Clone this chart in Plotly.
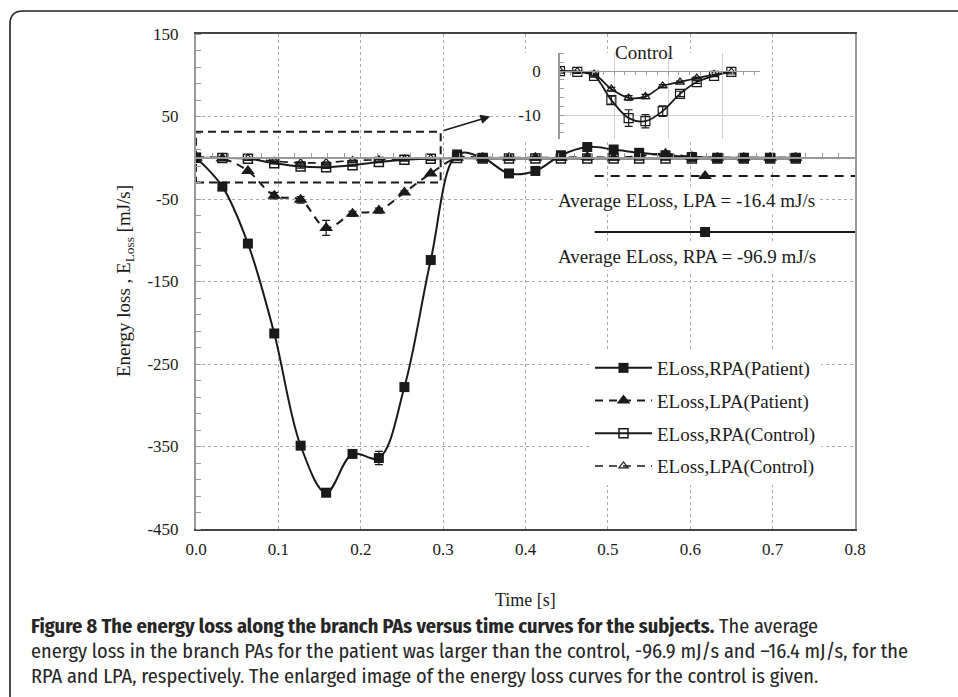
import plotly.graph_objects as go

# ---------------- data ----------------
time_s = [0.000, 0.032, 0.063, 0.095, 0.127, 0.158, 0.190, 0.222, 0.253, 0.285,
          0.317, 0.348, 0.380, 0.412, 0.443, 0.475, 0.507, 0.538, 0.570, 0.602,
          0.633, 0.665, 0.697, 0.728]
rpa_patient = [0, -35, -104, -213, -349, -406, -359, -364, -278, -124,
               4, 0, -19, -16, 3, 13, 10, 6, 3, 1, 0, 0, 0, 0]
rpa_patient_err = [0, 0, 0, 0, 0, 2, 3, 8, 5, 0,
                   0, 0, 0, 0, 0, 0, 0, 0, 0, 0, 0, 0, 0, 0]
lpa_patient = [0, -1, -16, -46, -51, -85, -68, -64, -42, -19,
               0, 0, 0, 0, 0, 1, 0, 2, 5, 1, 0, 0, 0, 0]
lpa_patient_err = [0, 0, 0, 4, 4, 9, 3, 3, 2, 0,
                   0, 0, 0, 0, 0, 0, 0, 0, 0, 0, 0, 0, 0, 0]
rpa_control = [0, -0.2, -1.1, -6.6, -10.7, -11.4, -9.1, -5.2, -2.5, -1.1,
               -0.2, -0.8, -1.0, -1.0, -0.8, -1.0, -1.0, -1.0, -0.8, -0.8,
               -0.8, -0.8, -0.8, -0.8]
rpa_control_err = [0, 0, 0.3, 0.9, 1.9, 1.5, 1.2, 0.6, 0.3, 0,
                   0, 0, 0, 0, 0, 0, 0, 0, 0, 0, 0, 0, 0, 0]
lpa_control = [0, -0.1, -0.7, -4.1, -6.1, -5.8, -3.4, -2.5, -1.6, -0.8,
               -0.2, -0.5, -0.5, -0.5, -0.5, -0.5, -0.5, -0.5, -0.5, -0.5,
               -0.5, -0.5, -0.5, -0.5]
lpa_control_err = [0, 0, 0.2, 0.4, 0.5, 0.5, 0.3, 0.2, 0.2, 0,
                   0, 0, 0, 0, 0, 0, 0, 0, 0, 0, 0, 0, 0, 0]
inset_n = 11  # the enlarged control view shows the first 11 samples

series_names = ["ELoss,RPA(Patient)", "ELoss,LPA(Patient)",
                "ELoss,RPA(Control)", "ELoss,LPA(Control)"]

avg_lpa = -16.4
avg_rpa = -96.9
avg_key_x = [0.484, 0.8]
avg_key_marker_x = [0.618]
avg_key_y = [-22, -90]

x_tick_vals = [0.0, 0.1, 0.2, 0.3, 0.4, 0.5, 0.6, 0.7, 0.8]
x_tick_text = ["0.0", "0.1", "0.2", "0.3", "0.4", "0.5", "0.6", "0.7", "0.8"]
y_tick_vals = [150, 50, -50, -150, -250, -350, -450]
y_tick_text = ["150", "50", "-50", "-150", "-250", "-350", "-450"]
inset_y_tick_vals = [0, -10]
inset_y_tick_text = ["0", "-10"]
zoom_box_x = [0.0, 0.297]
zoom_box_y = [-30, 31.5]

# ---------------- layout helpers ----------------
W, H = 958, 697
ML, MR, MT, MB = 196, 103, 34, 168
PW, PH = W - ML - MR, H - MT - MB


def px(xp):
    return (xp - ML) / PW


def py(yp):
    return (H - MB - yp) / PH


SERIF = "Liberation Serif, Times New Roman, serif"
SANS = "Fira Sans Condensed, Roboto Condensed, PT Sans Narrow, sans-serif"
INK = "#1a1a1a"

fig = go.Figure()

err_style = dict(type="data", symmetric=True, color=INK, thickness=1.2, width=4)

fig.add_trace(go.Scatter(
    x=time_s, y=rpa_patient, name=series_names[0], legendgroup="a",
    mode="lines+markers", line=dict(color=INK, width=2, shape="spline", smoothing=1.0),
    marker=dict(symbol="square", size=10, color=INK),
    error_y=dict(array=rpa_patient_err, **err_style)))
fig.add_trace(go.Scatter(
    x=time_s, y=lpa_patient, name=series_names[1], legendgroup="b",
    mode="lines+markers",
    line=dict(color=INK, width=2, dash="8px,6px", shape="spline", smoothing=1.0),
    marker=dict(symbol="triangle-up", size=12, color=INK),
    error_y=dict(array=lpa_patient_err, **err_style)))
fig.add_trace(go.Scatter(
    x=time_s, y=rpa_control, name=series_names[2], legendgroup="c",
    mode="lines+markers", line=dict(color=INK, width=2, shape="spline", smoothing=1.0),
    marker=dict(symbol="square-open", size=9, color=INK, line=dict(width=1.5)),
    error_y=dict(array=rpa_control_err, **err_style)))
fig.add_trace(go.Scatter(
    x=time_s, y=lpa_control, name=series_names[3], legendgroup="d",
    mode="lines+markers",
    line=dict(color=INK, width=1.6, dash="8px,6px", shape="spline", smoothing=1.0),
    marker=dict(symbol="triangle-up-open", size=8, color=INK, line=dict(width=1.2)),
    error_y=dict(array=lpa_control_err, **err_style)))

# average keys
fig.add_trace(go.Scatter(
    x=avg_key_x, y=[avg_key_y[0]] * 2, mode="lines", showlegend=False, hoverinfo="skip",
    line=dict(color=INK, width=2, dash="9px,7px")))
fig.add_trace(go.Scatter(
    x=avg_key_marker_x, y=[avg_key_y[0]], mode="markers", showlegend=False,
    marker=dict(symbol="triangle-up", size=12, color=INK)))
fig.add_trace(go.Scatter(
    x=avg_key_x, y=[avg_key_y[1]] * 2, mode="lines", showlegend=False, hoverinfo="skip",
    line=dict(color=INK, width=2.2)))
fig.add_trace(go.Scatter(
    x=avg_key_marker_x, y=[avg_key_y[1]], mode="markers", showlegend=False,
    marker=dict(symbol="square", size=10, color=INK)))

# zoom box (dashed)
fig.add_trace(go.Scatter(
    x=[zoom_box_x[0], zoom_box_x[1], zoom_box_x[1], zoom_box_x[0], zoom_box_x[0]],
    y=[zoom_box_y[0], zoom_box_y[0], zoom_box_y[1], zoom_box_y[1], zoom_box_y[0]],
    mode="lines", showlegend=False, hoverinfo="skip",
    line=dict(color=INK, width=2, dash="8px,5px")))

# invisible trace for the axis drawn at y = 0
fig.add_trace(go.Scatter(x=[0], y=[0], xaxis="x2", yaxis="y", mode="markers",
                         marker=dict(opacity=0), showlegend=False, hoverinfo="skip"))

# inset (control, enlarged)
fig.add_trace(go.Scatter(
    x=time_s[:inset_n], y=rpa_control[:inset_n], xaxis="x3", yaxis="y3",
    mode="lines+markers", showlegend=False,
    line=dict(color=INK, width=1.8, shape="spline", smoothing=1.0),
    marker=dict(symbol="square-open", size=9, color=INK, line=dict(width=1.2)),
    error_y=dict(array=rpa_control_err[:inset_n], **err_style)))
fig.add_trace(go.Scatter(
    x=time_s[:inset_n], y=lpa_control[:inset_n], xaxis="x3", yaxis="y3",
    mode="lines+markers", showlegend=False,
    line=dict(color=INK, width=1.8, shape="spline", smoothing=1.0),
    marker=dict(symbol="triangle-up-open", size=8, color=INK, line=dict(width=1.2)),
    error_y=dict(array=lpa_control_err[:inset_n], **err_style)))

tickfont = dict(family=SERIF, size=17, color=INK)

fig.update_layout(
    width=W, height=H,
    margin=dict(l=ML, r=MR, t=MT, b=MB, pad=0),
    paper_bgcolor="white", plot_bgcolor="white",
    showlegend=True,
    legend=dict(x=px(590), y=py(349), xanchor="left", yanchor="top",
                bgcolor="white", font=dict(family=SERIF, size=19, color=INK),
                traceorder="grouped", tracegroupgap=5, itemwidth=57,
                borderwidth=0),
    xaxis=dict(domain=[0, 1], range=[0, 0.8], tickvals=x_tick_vals, ticktext=x_tick_text,
               showgrid=True, gridcolor="#aaaaaa", griddash="dot", gridwidth=1,
               showline=True, linecolor="#444444", linewidth=1.5, mirror=True,
               ticks="", ticklabelstandoff=4, tickfont=tickfont, zeroline=False),
    yaxis=dict(domain=[0, 1], range=[-450, 150], tickvals=y_tick_vals, ticktext=y_tick_text,
               showgrid=True, gridcolor="#aaaaaa", griddash="dot", gridwidth=1,
               showline=True, linecolor="#999999", linewidth=2, mirror=True,
               ticks="", ticklabelstandoff=12, tickfont=tickfont, zeroline=False,
               minor=dict(dtick=20, tick0=150, ticks="inside", ticklen=5,
                          tickcolor="#999999", showgrid=False)),
    xaxis2=dict(overlaying="x", anchor="free", position=0.75, side="bottom",
                range=[0, 0.8], showticklabels=False, showgrid=False, zeroline=False,
                showline=True, linecolor="#999999", linewidth=1.5,
                tickmode="linear", tick0=0, dtick=0.02, ticks="inside", ticklen=4,
                tickcolor="#999999"),
    xaxis3=dict(domain=[px(560), px(760)], range=[0, 0.37], anchor="free",
                position=py(71), showticklabels=False,
                showgrid=True, gridcolor="#d0d0d0", gridwidth=1,
                tickvals=[0.1, 0.2, 0.3], zeroline=False, showline=True,
                linecolor="#999999", linewidth=1.2,
                minor=dict(dtick=0.02, tick0=0, ticks="outside", ticklen=3,
                           tickcolor="#999999", showgrid=False), ticks=""),
    yaxis3=dict(domain=[py(139), py(53)], range=[-15.45, 4.1], anchor="x3",
                tickvals=inset_y_tick_vals, ticktext=inset_y_tick_text,
                showgrid=True, gridcolor="#d0d0d0", gridwidth=1, zeroline=False,
                showline=True, linecolor="#999999", linewidth=1.5,
                ticks="", ticklabelstandoff=14, tickfont=tickfont,
                minor=dict(dtick=2, tick0=0, ticks="inside", ticklen=4,
                           tickcolor="#999999", showgrid=False)),
)

# white background behind inset (covers main gridlines)
fig.add_shape(type="rect", xref="x", yref="y", x0=px(515) * 0.8, x1=px(762) * 0.8,
              y0=21.8, y1=127, fillcolor="white", line=dict(width=0), layer="between")

# outer rounded frame (cut at right and bottom)
fx0, fy0, fr = 10, 11, 13
frame_path = (f"M {px(fx0)},{py(H + 20)} L {px(fx0)},{py(fy0 + fr)} "
              f"Q {px(fx0)},{py(fy0)} {px(fx0 + fr)},{py(fy0)} L {px(W + 20)},{py(fy0)}")
fig.add_shape(type="path", xref="paper", yref="paper", path=frame_path,
              line=dict(color="#222222", width=1.6))

# arrow from zoom box to inset
fig.add_annotation(x=0.357, y=50, ax=zoom_box_x[1] + 0.002, ay=zoom_box_y[1] + 1,
                   xref="x", yref="y", axref="x", ayref="y", text="",
                   showarrow=True, arrowhead=2, arrowsize=1.2, arrowwidth=1.6,
                   arrowcolor=INK)

# inset title
fig.add_annotation(x=px(644), y=py(52), xref="paper", yref="paper", text="Control",
                   showarrow=False, font=dict(family=SERIF, size=19, color=INK),
                   xanchor="center", yanchor="middle")

# average labels
fig.add_annotation(x=0.596, y=-52, xref="x", yref="y",
                   text=f"Average ELoss, LPA = {avg_lpa} mJ/s", showarrow=False,
                   font=dict(family=SERIF, size=19, color=INK), bgcolor="white",
                   borderpad=3, xanchor="center", yanchor="middle")
fig.add_annotation(x=0.596, y=-120, xref="x", yref="y",
                   text=f"Average ELoss, RPA = {avg_rpa} mJ/s", showarrow=False,
                   font=dict(family=SERIF, size=19, color=INK), bgcolor="white",
                   borderpad=3, xanchor="center", yanchor="middle")

# axis titles
fig.add_annotation(x=px(125), y=py(281), xref="paper", yref="paper", textangle=-90,
                   text="Energy loss , E<sub>Loss</sub> [mJ/s]", showarrow=False,
                   xanchor="center", yanchor="middle",
                   font=dict(family=SERIF, size=19, color=INK))
fig.add_annotation(x=px(525), y=py(600), xref="paper", yref="paper",
                   text="Time [s]", showarrow=False, xanchor="center", yanchor="middle",
                   font=dict(family=SERIF, size=18, color=INK))

# caption
cap_font = dict(family=SANS, size=20.3, color="#262626")
caption_lines = [
    "<b>Figure 8 The energy loss along the branch PAs versus time curves for the subjects.</b> The average",
    "energy loss in the branch PAs for the patient was larger than the control, -96.9 mJ/s and \u201316.4 mJ/s, for the",
    "RPA and LPA, respectively. The enlarged image of the energy loss curves for the control is given.",
]
for i, line in enumerate(caption_lines):
    fig.add_annotation(x=px(29), y=py(626 + 25 * i), xref="paper", yref="paper",
                       text=line, showarrow=False, xanchor="left", yanchor="middle",
                       font=cap_font, align="left")

fig.write_html("out.html")
